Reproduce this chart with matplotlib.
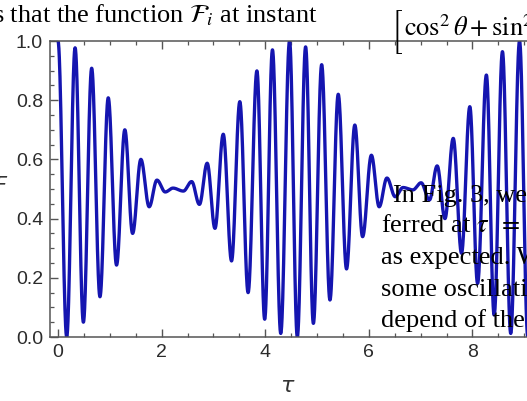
import numpy as np
import matplotlib
matplotlib.use("Agg")
import matplotlib.pyplot as plt
from matplotlib.ticker import MultipleLocator

# extrema of the curve (tau, value)
tau_ext = [0.0, 0.168, 0.33, 0.49, 0.65, 0.81, 0.97, 1.13, 1.29, 1.44, 1.60, 1.76,
           1.91, 2.07, 2.22, 2.42, 2.58, 2.73, 2.88, 3.03, 3.19, 3.35, 3.51, 3.67,
           3.84, 3.99, 4.14, 4.30, 4.47, 4.62, 4.78, 4.93, 5.09, 5.25, 5.41, 5.57,
           5.73, 5.88, 6.05, 6.20, 6.35, 6.51, 6.66, 6.85, 7.01, 7.17, 7.32, 7.47,
           7.63, 7.79, 7.95, 8.10, 8.27, 8.42, 8.58, 8.74, 8.91, 9.07, 9.23]
f_ext = [1.0, 0.0, 0.977, 0.05, 0.908, 0.136, 0.808, 0.243, 0.70, 0.35, 0.60, 0.44,
         0.53, 0.49, 0.503, 0.493, 0.525, 0.448, 0.587, 0.367, 0.685, 0.257, 0.795, 0.150,
         0.899, 0.06, 0.97, 0.012, 1.0, 0.0, 0.98, 0.046, 0.92, 0.125, 0.82, 0.23,
         0.716, 0.339, 0.614, 0.44, 0.537, 0.474, 0.505, 0.497, 0.521, 0.463, 0.578, 0.40,
         0.671, 0.283, 0.778, 0.181, 0.885, 0.074, 0.964, 0.012, 1.0, 0.0, 1.0]

x_ticks = [0, 2, 4, 6, 8]
y_ticks = [0.0, 0.2, 0.4, 0.6, 0.8, 1.0]

# smooth half-cosine segments between successive extrema
tt, ff = [], []
for i in range(len(tau_ext) - 1):
    s = np.linspace(0, 1, 40, endpoint=False)
    tt.append(tau_ext[i] + (tau_ext[i + 1] - tau_ext[i]) * s)
    ff.append(f_ext[i] + (f_ext[i + 1] - f_ext[i]) * (1 - np.cos(np.pi * s)) / 2)
tt = np.concatenate(tt)
ff = np.concatenate(ff)

W, H = 527, 401
plt.rcParams['mathtext.fontset'] = 'stix'
fig = plt.figure(figsize=(W / 100, H / 100), dpi=100)

# axes in pixel terms: left spine x=50, bottom y=337, top y=41, tau 0 at x=58
px_per = 51.8
x0 = -8 / px_per
x1 = x0 + 520 / px_per
ax = fig.add_axes([50 / W, (H - 337) / H, 520 / W, (337 - 41) / H])
ax.plot(tt, ff, color='#1515b0', lw=2.4)
ax.set_xlim(x0, x1)
ax.set_ylim(0, 1)
ax.set_xticks(x_ticks)
ax.set_yticks(y_ticks)
ax.set_yticklabels(['%.1f' % v for v in y_ticks])
ax.xaxis.set_minor_locator(MultipleLocator(0.5))
ax.yaxis.set_minor_locator(MultipleLocator(0.05))
ax.tick_params(which='both', direction='in', top=True, right=True, color='#555555',
               labelcolor='#2b2b2b', labelsize=14, pad=5)
ax.tick_params(which='major', length=5.5, width=1)
ax.tick_params(which='minor', length=3, width=0.9)
for lab in ax.get_xticklabels() + ax.get_yticklabels():
    lab.set_family('Liberation Sans')
for sp in ax.spines.values():
    sp.set_color('#555555')
    sp.set_linewidth(1.1)


def ftext(x, y, s, **kw):
    fig.text(x / W, 1 - y / H, s, **kw)


# axis labels (y label mostly off the left edge)
ftext(287, 386, 'τ', fontsize=16, style='italic', ha='center', va='center', color='#333333')
ftext(6, 176, 'F', fontsize=15, style='italic', ha='right', va='top', color='#333333')

# paper text lying over the figure
serif = dict(family='Liberation Serif', fontsize=19, color='black', va='baseline', zorder=5)
ftext(-7, 22, r's that the function $\mathcal{F}_i$ at instant', **serif)
ftext(391, 32, '[', family='STIXSizeTwoSym', fontsize=17, color='black',
      va='center', ha='left', zorder=5)
ftext(404, 36, r'$\cos^2\theta + \sin^2\theta$', **serif)
ftext(393, 202, r'In Fig. 3, we', **serif)
ftext(381, 232, r'ferred at $\tau\;\;=\;1$', **serif)
ftext(381, 264, r'as expected. W', **serif)
ftext(381, 296, r'some oscillati', **serif)
ftext(381, 327, r'depend of the', **serif)

fig.savefig('out.png', dpi=100)
